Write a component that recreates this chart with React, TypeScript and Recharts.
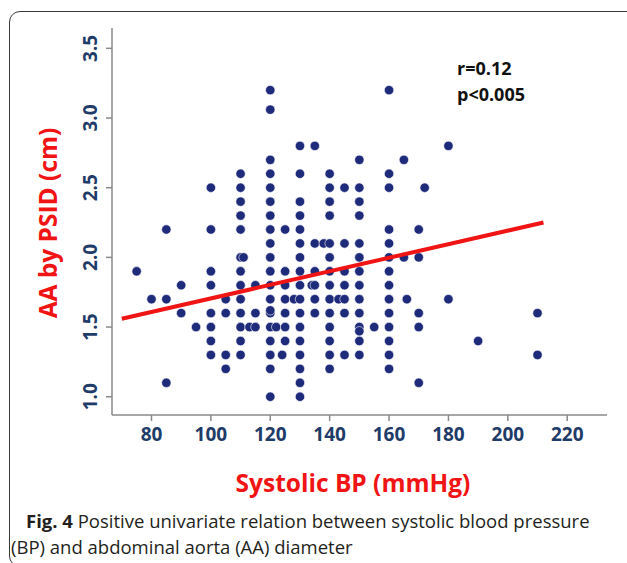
import {Scatter, ScatterChart, XAxis, YAxis} from "recharts";

// systolic BP levels (mmHg) and the AA diameters (cm) found at each of them
const sbpLevels = [
    75, 80, 85, 90, 95, 100, 105, 110, 111, 113, 115, 120, 122, 124, 125, 128, 130,
    134, 135, 138, 140, 143, 145, 150, 155, 160, 165, 166, 170, 172, 180, 190, 210,
];
const aaAtLevel = [
    [1.9],
    [1.7],
    [2.2, 1.7, 1.1],
    [1.8, 1.6],
    [1.5],
    [2.5, 2.2, 1.9, 1.8, 1.6, 1.5, 1.4, 1.3],
    [1.7, 1.6, 1.3, 1.2],
    [2.6, 2.5, 2.4, 2.3, 2.2, 2.0, 1.9, 1.8, 1.7, 1.6, 1.5, 1.4, 1.3],
    [2.0],
    [1.5],
    [1.8, 1.6, 1.5],
    [3.2, 3.06, 2.7, 2.6, 2.5, 2.4, 2.3, 2.2, 2.1, 2.0, 1.9, 1.8, 1.7, 1.6, 1.62, 1.5, 1.4, 1.3, 1.2, 1.0],
    [1.5],
    [1.3],
    [2.2, 1.9, 1.8, 1.7, 1.6, 1.5, 1.4],
    [1.7],
    [2.8, 2.6, 2.4, 2.3, 2.2, 2.1, 2.0, 1.9, 1.8, 1.7, 1.6, 1.5, 1.4, 1.3, 1.2, 1.1, 1.0],
    [1.8],
    [2.8, 2.1, 1.9, 1.8, 1.7, 1.6],
    [2.1],
    [2.6, 2.5, 2.4, 2.3, 2.1, 2.0, 1.9, 1.8, 1.7, 1.6, 1.5, 1.4, 1.3, 1.2],
    [1.7],
    [2.5, 2.1, 1.9, 1.8, 1.7, 1.6, 1.3],
    [2.7, 2.5, 2.4, 2.3, 2.1, 2.0, 1.9, 1.8, 1.7, 1.6, 1.5, 1.47, 1.4, 1.3],
    [1.5],
    [3.2, 2.6, 2.5, 2.2, 2.1, 2.0, 1.9, 1.8, 1.7, 1.6, 1.5, 1.4, 1.3, 1.2],
    [2.7, 2.0],
    [1.7],
    [2.2, 2.0, 1.6, 1.5, 1.1],
    [2.5],
    [2.8, 1.7],
    [1.4],
    [1.6, 1.3],
];

const xTicks = [80, 100, 120, 140, 160, 180, 200, 220];
const yTicks = [1.0, 1.5, 2.0, 2.5, 3.0, 3.5];

// ends of the fitted line
const fitSbp = [70, 212];
const fitAa = [1.56, 2.25];

const points = sbpLevels.flatMap((x, i) => aaAtLevel[i].map((y) => ({x, y})));
const fitLine = fitSbp.map((x, i) => ({x, y: fitAa[i]}));

const NAVY = "#1f3b68";
const RED = "#f01414";
const FONT = "'Open Sans', sans-serif";

function XTick({x, y, payload}: any) {
    return (
        <text x={x} y={y + 18} textAnchor="middle" fill={NAVY} fontSize={19} fontWeight={700} fontFamily={FONT}>
            {payload.value}
        </text>
    );
}

function YTick({y, payload}: any) {
    return (
        <text
            transform={`translate(97, ${y}) rotate(-90)`}
            textAnchor="middle"
            fill={NAVY}
            fontSize={19}
            fontWeight={700}
            fontFamily={FONT}
        >
            {Number(payload.value).toFixed(1)}
        </text>
    );
}

function Dot({cx, cy}: any) {
    return <circle cx={cx} cy={cy} r={4.7} fill="#1e2a7a" stroke="#ffffff" strokeWidth={0.6}/>;
}

export default function App() {
    return (
        <div style={{position: "absolute", left: 0, top: 0, width: 627, height: 563, background: "#fff", overflow: "hidden", fontFamily: FONT}}>
            <div style={{
                position: "absolute", left: 9, top: 11, width: 640, height: 556,
                border: "1.5px solid #3a3a3a", borderRadius: 11, boxSizing: "border-box",
            }}/>
            <ScatterChart width={627} height={563} margin={{top: 28, right: 20, bottom: 118, left: 52}}>
                <XAxis
                    type="number"
                    dataKey="x"
                    domain={[66.7, 233.4]}
                    ticks={xTicks}
                    allowDataOverflow
                    height={30}
                    stroke="#8a8a8a"
                    strokeWidth={1.5}
                    tickSize={6}
                    tick={<XTick/>}
                    label={{
                        content: () => (
                            <text x={353} y={492} textAnchor="middle" fill={RED} fontSize={24.5} fontWeight={700} fontFamily={FONT}>
                                Systolic BP (mmHg)
                            </text>
                        ),
                    }}
                />
                <YAxis
                    type="number"
                    dataKey="y"
                    domain={[0.869, 3.646]}
                    ticks={yTicks}
                    allowDataOverflow
                    width={60}
                    stroke="#8a8a8a"
                    strokeWidth={1.5}
                    tickSize={6}
                    tick={<YTick/>}
                    label={{
                        content: () => (
                            <text transform="translate(57, 223) rotate(-90)" textAnchor="middle" fill={RED} fontSize={24.5} fontWeight={700} fontFamily={FONT}>
                                AA by PSID (cm)
                            </text>
                        ),
                    }}
                />
                <Scatter data={points} shape={<Dot/>} isAnimationActive={false}/>
                <Scatter
                    data={fitLine}
                    line={{stroke: RED, strokeWidth: 4}}
                    shape={() => <g/>}
                    isAnimationActive={false}
                />
            </ScatterChart>
            <div style={{position: "absolute", left: 457, top: 55, fontSize: 18, fontWeight: 700, color: "#111", lineHeight: "26px"}}>
                <div>r=0.12</div>
                <div>p&lt;0.005</div>
            </div>
            <div style={{position: "absolute", left: 11, top: 508, width: 616, fontSize: 18.5, color: "#231f20", lineHeight: "26px"}}>
                <div style={{paddingLeft: 15, whiteSpace: "nowrap"}}><b>Fig. 4</b> Positive univariate relation between systolic blood pressure</div>
                <div style={{whiteSpace: "nowrap"}}>(BP) and abdominal aorta (AA) diameter</div>
            </div>
        </div>
    );
}
